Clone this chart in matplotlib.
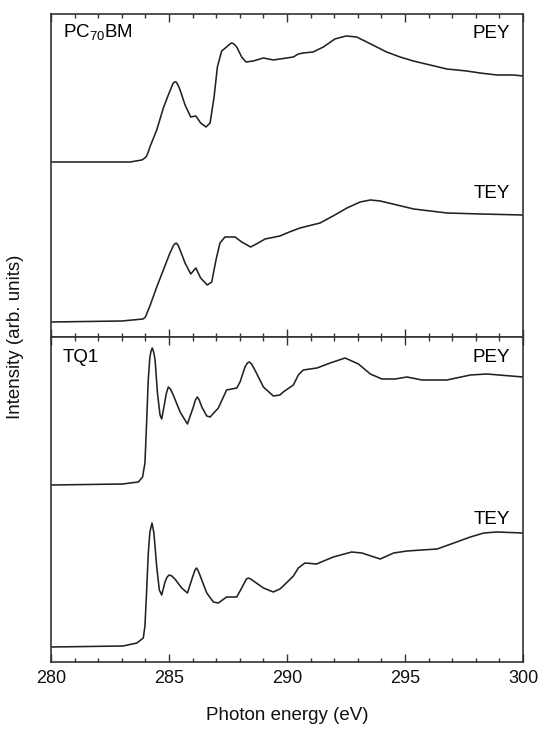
import numpy as np
import matplotlib.pyplot as plt
from matplotlib.ticker import MultipleLocator

plt.rcParams['font.family'] = ['Liberation Sans', 'DejaVu Sans']
plt.rcParams['mathtext.fontset'] = 'custom'
plt.rcParams['mathtext.rm'] = 'Liberation Sans'

# PC70BM, partial electron yield (arb. units)
pc_pey_e = [280.0, 283.35, 283.85, 283.98, 284.05, 284.12, 284.19, 284.48, 284.76, 284.97,
            285.16, 285.23, 285.30, 285.38, 285.47, 285.68, 285.92, 286.14, 286.34, 286.57,
            286.74, 286.91, 287.05, 287.23, 287.44, 287.58, 287.66, 287.75, 287.87, 288.08,
            288.26, 288.57, 289.0, 289.42, 289.99, 290.27, 290.48, 290.69, 291.11, 291.54,
            292.03, 292.50, 292.95, 293.38, 293.80, 294.22, 294.79, 295.35, 296.06, 296.77,
            297.61, 298.18, 298.89, 299.59, 300.0]
pc_pey_i = [175, 175, 177, 179, 181, 185, 190, 207, 229, 242,
            253, 255, 255, 252, 247, 232, 220, 221, 214, 210,
            214, 240, 270, 286, 290, 293, 294, 293, 290, 280,
            275, 276, 279, 277, 279, 280, 283, 284, 285, 290,
            298, 301, 300, 295, 290, 285, 280, 276, 272, 268,
            266, 264, 262, 262, 261]

# PC70BM, total electron yield
pc_tey_e = [280.0, 283.0, 283.9, 284.0, 284.19, 284.48, 284.76, 285.04, 285.2, 285.30,
            285.38, 285.47, 285.68, 285.92, 286.14, 286.34, 286.62, 286.81, 286.99, 287.16,
            287.37, 287.80, 288.08, 288.46, 288.78, 289.07, 289.70, 290.1, 290.55, 291.4,
            291.95, 292.54, 293.1, 293.53, 293.95, 294.66, 295.37, 296.07, 296.78, 298.2, 300.0]
pc_tey_i = [15, 16, 18, 20, 31, 50, 67, 84, 92, 94,
            92, 87, 74, 63, 69, 59, 52, 55, 77, 94,
            100, 100, 95, 90, 94, 98, 101, 105, 109, 114,
            121, 129, 135, 137, 136, 132, 128, 126, 124, 123, 122]

# TQ1, partial electron yield
tq_pey_e = [280.0, 283.05, 283.35, 283.70, 283.88, 283.98, 284.05, 284.12, 284.19, 284.24,
            284.29, 284.35, 284.41, 284.51, 284.62, 284.69, 284.80, 284.88, 284.97, 285.06,
            285.18, 285.47, 285.78, 286.03, 286.12, 286.20, 286.28, 286.39, 286.60, 286.74,
            287.09, 287.44, 287.87, 288.01, 288.22, 288.32, 288.40, 288.50, 288.64, 289.0,
            289.42, 289.70, 289.84, 290.27, 290.48, 290.69, 291.27, 291.83, 292.46, 293.03,
            293.53, 294.02, 294.59, 295.08, 295.72, 296.78, 297.77, 298.47, 300.0]
tq_pey_i = [177, 178, 179, 180, 185, 199, 239, 282, 305, 311,
            314, 310, 302, 269, 247, 243, 257, 268, 275, 273,
            267, 250, 238, 255, 262, 265, 262, 255, 246, 245,
            254, 272, 274, 280, 295, 299, 300, 298, 292, 275,
            266, 267, 270, 277, 287, 292, 294, 299, 304, 298,
            288, 283, 283, 285, 282, 282, 287, 288, 285]

# TQ1, total electron yield
tq_tey_e = [280.0, 283.05, 283.64, 283.91, 283.98, 284.05, 284.12, 284.19, 284.28, 284.36,
            284.48, 284.59, 284.69, 284.83, 284.92, 285.01, 285.12, 285.25, 285.54, 285.78,
            286.0, 286.10, 286.17, 286.24, 286.34, 286.60, 286.88, 287.09, 287.44, 287.87,
            288.08, 288.28, 288.36, 288.46, 288.64, 289.0, 289.42, 289.70, 289.84, 290.27,
            290.48, 290.76, 291.25, 291.96, 292.74, 293.17, 293.95, 294.52, 295.08, 296.36,
            297.07, 297.77, 298.34, 298.9, 300.0]
tq_tey_i = [15, 16, 19, 24, 36, 70, 108, 130, 139, 129,
            95, 72, 67, 80, 85, 87, 86, 83, 74, 69,
            85, 92, 94, 91, 85, 69, 60, 59, 65, 65,
            74, 83, 84, 83, 80, 74, 70, 73, 76, 86,
            94, 99, 98, 105, 110, 109, 103, 109, 111, 113,
            119, 125, 129, 130, 129]

x_ticks = [280, 285, 290, 295, 300]

line_col = '#222222'
axis_col = '#333333'

fig = plt.figure(figsize=(5.41, 7.40), dpi=100)
ax_top = fig.add_axes([0.0943, 0.5446, 0.8724, 0.4365])
ax_bot = fig.add_axes([0.0943, 0.1054, 0.8724, 0.4392])

kw = dict(color=line_col, lw=1.15, solid_joinstyle='round')
ax_top.plot(pc_pey_e, pc_pey_i, **kw)
ax_top.plot(pc_tey_e, pc_tey_i, **kw)
ax_bot.plot(tq_pey_e, tq_pey_i, **kw)
ax_bot.plot(tq_tey_e, tq_tey_i, **kw)

ax_top.set_ylim(0, 323)
ax_bot.set_ylim(0, 325)

for ax in (ax_top, ax_bot):
    ax.set_xlim(280, 300)
    ax.set_xticks(x_ticks)
    ax.xaxis.set_minor_locator(MultipleLocator(1))
    ax.set_yticks([])
    ax.tick_params(axis='x', which='both', direction='in', top=True, bottom=True,
                   color=axis_col, width=1.0)
    ax.tick_params(axis='x', which='major', length=6)
    ax.tick_params(axis='x', which='minor', length=3.2)
    for s in ax.spines.values():
        s.set_color(axis_col)
        s.set_linewidth(1.2)

ax_top.tick_params(axis='x', labelbottom=False)
ax_bot.tick_params(axis='x', labelsize=13, pad=6, labelcolor='#111111')
ax_bot.set_xlabel('Photon energy (eV)', fontsize=13.5, labelpad=14, color='#111111')

fs = 13.5
ax_top.text(0.025, 0.941, r'PC$_{\mathrm{70}}$BM', transform=ax_top.transAxes, fontsize=fs,
            va='center', ha='left')
ax_top.text(0.972, 0.941, 'PEY', transform=ax_top.transAxes, fontsize=fs, va='center', ha='right')
ax_top.text(0.972, 0.443, 'TEY', transform=ax_top.transAxes, fontsize=fs, va='center', ha='right')
ax_bot.text(0.025, 0.938, 'TQ1', transform=ax_bot.transAxes, fontsize=fs, va='center', ha='left')
ax_bot.text(0.972, 0.938, 'PEY', transform=ax_bot.transAxes, fontsize=fs, va='center', ha='right')
ax_bot.text(0.972, 0.44, 'TEY', transform=ax_bot.transAxes, fontsize=fs, va='center', ha='right')

fig.text(0.028, 0.5446, 'Intensity (arb. units)', rotation=90, fontsize=13.5,
         va='center', ha='center', color='#111111')

fig.savefig('out.png', dpi=100)
